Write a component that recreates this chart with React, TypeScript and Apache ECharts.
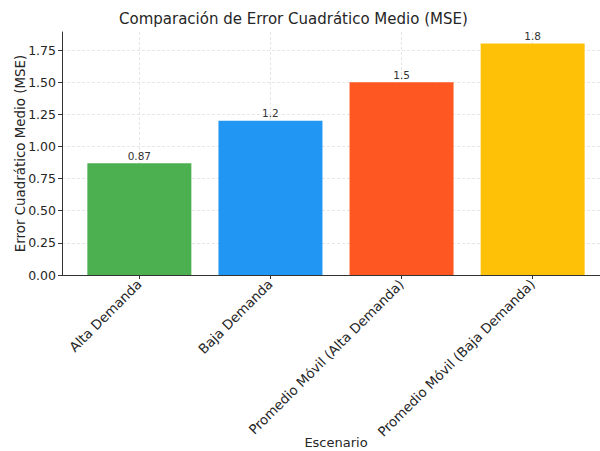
import React, { useEffect, useRef } from "react";
import * as echarts from "echarts";

const categories = [
  "Alta Demanda",
  "Baja Demanda",
  "Promedio Móvil (Alta Demanda)",
  "Promedio Móvil (Baja Demanda)",
];
const mseValues = [0.87, 1.2, 1.5, 1.8];
const valueLabels = ["0.87", "1.2", "1.5", "1.8"];
const barColors = ["#4CAF50", "#2196F3", "#FF5722", "#FFC107"];
const positions = [0, 1, 2, 3];

const FONT = "DejaVu Sans";

export default function App() {
  const ref = useRef<HTMLDivElement>(null);
  useEffect(() => {
    if (!ref.current) return;
    const chart = echarts.init(ref.current, null, { renderer: "svg" });
    chart.setOption({
      animation: false,
      backgroundColor: "#ffffff",
      textStyle: { fontFamily: FONT },
      title: {
        text: "Comparación de Error Cuadrático Medio (MSE)",
        left: 114,
        top: 6,
        textStyle: { fontFamily: FONT, fontSize: 15, fontWeight: "normal", color: "#262626" },
      },
      grid: {
        left: 62,
        right: -10,
        top: 32,
        bottom: 176,
        containLabel: false,
        outerBoundsMode: "none",
      },
      xAxis: {
        type: "value",
        min: -0.59,
        max: 3.59,
        name: "Escenario",
        nameLocation: "middle",
        nameGap: 161,
        nameMoveOverlap: false,
        nameTextStyle: { fontFamily: FONT, fontSize: 13, color: "#262626" },
        axisLine: { show: true, onZero: false, lineStyle: { color: "#333333", width: 1 } },
        axisTick: { show: true, customValues: positions, length: 4, lineStyle: { color: "#333333" } },
        axisLabel: {
          customValues: positions,
          rotate: 45,
          margin: 7,
          fontFamily: FONT,
          fontSize: 13.4,
          color: "#262626",
          formatter: (v: number) => categories[Math.round(v)] ?? "",
        },
        splitLine: {
          show: true,
          lineStyle: { color: "#e0e0e0", type: [3, 2], width: 0.8 },
        },
      },
      yAxis: {
        type: "value",
        min: 0,
        max: 1.89,
        interval: 0.25,
        name: "Error Cuadrático Medio (MSE)",
        nameLocation: "middle",
        nameGap: 35,
        nameMoveOverlap: false,
        nameTextStyle: { fontFamily: FONT, fontSize: 13.4, color: "#262626" },
        axisLine: { show: true, onZero: false, lineStyle: { color: "#333333", width: 1 } },
        axisTick: { show: true, length: 4, lineStyle: { color: "#333333" } },
        axisLabel: {
          showMaxLabel: false,
          fontFamily: FONT,
          fontSize: 12.5,
          color: "#262626",
          margin: 6,
          formatter: (v: number) => v.toFixed(2),
        },
        splitLine: {
          show: true,
          showMaxLine: false,
          lineStyle: { color: "#e0e0e0", type: [3, 2], width: 0.8 },
        },
      },
      series: [
        {
          type: "bar",
          barWidth: 104,
          data: mseValues.map((v, i) => ({
            value: [positions[i], v],
            itemStyle: { color: barColors[i] },
            label: { formatter: valueLabels[i] },
          })),
          label: {
            show: true,
            position: "top",
            distance: 2,
            fontFamily: FONT,
            fontSize: 10.5,
            color: "#333333",
          },
        },
      ],
    });
    return () => chart.dispose();
  }, []);
  return (
    <div
      ref={ref}
      style={{ position: "absolute", left: 0, top: 0, width: 600, height: 451 }}
    />
  );
}
